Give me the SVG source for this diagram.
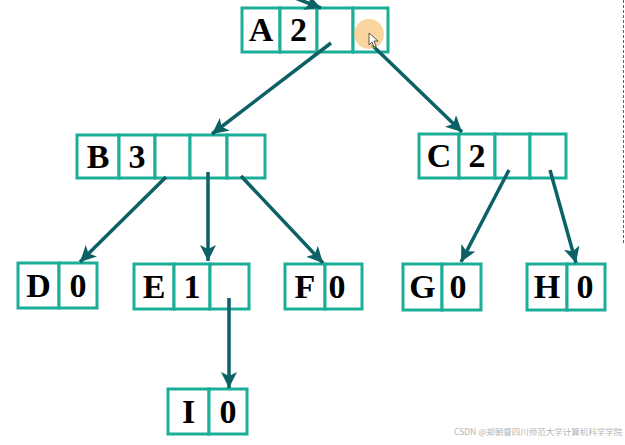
<svg xmlns="http://www.w3.org/2000/svg" width="625" height="445" viewBox="0 0 625 445">
<style>
.c{fill:#fff;stroke:#1aae98;stroke-width:3}
.t{font-family:"Liberation Serif","Times New Roman",serif;font-weight:bold;font-size:34px;fill:#000;text-anchor:middle}
.e{fill:none;stroke:#0b6166;stroke-width:3.5;marker-end:url(#ah)}
.w{font-family:"Noto Sans CJK SC","Liberation Sans",sans-serif;font-size:8.5px;fill:#b4b4b4}
</style>
<defs>
<marker id="ah" markerUnits="userSpaceOnUse" markerWidth="20" markerHeight="20" refX="16" refY="8" orient="auto">
<path d="M0,0 L16,8 L0,16 L4,8 Z" fill="#0b6166"/>
</marker>
</defs>
<rect width="625" height="445" fill="#fff"/>
<line x1="623.5" y1="0" x2="623.5" y2="245" stroke="#5a5a90" stroke-width="1" stroke-dasharray="3,2"/>
<g id="A">
<rect class="c" x="242" y="8" width="38" height="44"/><rect class="c" x="280" y="8" width="37" height="44"/><rect class="c" x="317" y="8" width="36" height="44"/><rect class="c" x="353" y="8" width="35" height="44"/>
<text class="t" x="261" y="41">A</text><text class="t" x="298.5" y="41">2</text>
</g>
<g id="B">
<rect class="c" x="77" y="135" width="42" height="43"/><rect class="c" x="119" y="135" width="36" height="43"/><rect class="c" x="155" y="135" width="35" height="43"/><rect class="c" x="190" y="135" width="37" height="43"/><rect class="c" x="227" y="135" width="38" height="43"/>
<text class="t" x="98" y="168">B</text><text class="t" x="137" y="168">3</text>
</g>
<g id="C">
<rect class="c" x="419" y="134" width="40" height="44"/><rect class="c" x="459" y="134" width="36" height="44"/><rect class="c" x="495" y="134" width="35" height="44"/><rect class="c" x="530" y="134" width="36" height="44"/>
<text class="t" x="439" y="167">C</text><text class="t" x="477" y="167">2</text>
</g>
<g id="D">
<rect class="c" x="18" y="263" width="41" height="45"/><rect class="c" x="59" y="263" width="38" height="45"/>
<text class="t" x="38.5" y="297">D</text><text class="t" x="78" y="297">0</text>
</g>
<g id="E">
<rect class="c" x="134" y="264" width="40" height="45"/><rect class="c" x="174" y="264" width="36" height="45"/><rect class="c" x="210" y="264" width="39" height="45"/>
<text class="t" x="154" y="298">E</text><text class="t" x="192" y="298">1</text>
</g>
<g id="F">
<rect class="c" x="285" y="264" width="40" height="45"/><rect class="c" x="325" y="264" width="37" height="45"/>
<text class="t" x="305" y="298">F</text><text class="t" x="337" y="298">0</text>
</g>
<g id="G">
<rect class="c" x="403" y="264" width="39" height="46"/><rect class="c" x="442" y="264" width="39" height="46"/>
<text class="t" x="422.5" y="298">G</text><text class="t" x="458" y="298">0</text>
</g>
<g id="H">
<rect class="c" x="527" y="264" width="40" height="46"/><rect class="c" x="567" y="264" width="38" height="46"/>
<text class="t" x="547" y="298">H</text><text class="t" x="585" y="298">0</text>
</g>
<g id="I">
<rect class="c" x="168" y="389" width="41" height="45"/><rect class="c" x="209" y="389" width="38" height="45"/>
<text class="t" x="188.5" y="423">I</text><text class="t" x="228" y="423">0</text>
</g>
<g id="connectors">
<line class="e" x1="290" y1="-4" x2="321" y2="8"/>
<line class="e" x1="331" y1="43" x2="212" y2="134"/>
<line class="e" x1="372" y1="45" x2="462" y2="132"/>
<line class="e" x1="166" y1="177" x2="80" y2="262"/>
<line class="e" x1="208" y1="172" x2="208" y2="261"/>
<line class="e" x1="241" y1="176" x2="323" y2="263"/>
<line class="e" x1="509" y1="170" x2="461" y2="262"/>
<line class="e" x1="550" y1="170" x2="576" y2="263"/>
<line class="e" x1="229" y1="298" x2="229" y2="388"/>
</g>
<circle cx="369" cy="34" r="15" fill="#f6b960" opacity="0.6"/>
<path d="M369,33 L369,45 L372,42 L374,47 L376,46 L374,41 L378,41 Z" fill="#fff" stroke="#333" stroke-width="0.8"/>
<text class="w" x="454" y="435">CSDN @郑朝督四川师范大学计算机科学学院</text>
</svg>
